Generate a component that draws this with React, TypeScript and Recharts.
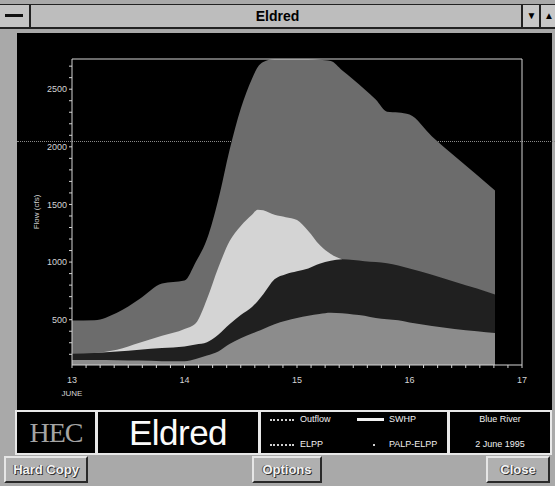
import { Area, ComposedChart, Label, XAxis, YAxis } from 'recharts'

// Eldred hydrograph, 13-16 June (flow in cfs)
const days = [13.0, 13.2, 13.4, 13.6, 13.8, 14.0, 14.1, 14.2, 14.3, 14.4, 14.5, 14.6, 14.65, 14.7, 14.8, 14.9, 15.0, 15.1, 15.2, 15.3, 15.4, 15.5, 15.6, 15.7, 15.8, 15.9, 16.0, 16.2, 16.4, 16.6, 16.76]
const outflow = [150, 150, 148, 145, 140, 140, 160, 190, 225, 290, 340, 380, 400, 420, 460, 490, 515, 535, 550, 560, 555, 545, 535, 515, 505, 495, 475, 445, 420, 400, 384]
const elpp = [205, 212, 225, 240, 255, 268, 285, 305, 370, 460, 540, 610, 660, 720, 850, 895, 920, 945, 985, 1012, 1025, 1018, 1008, 1000, 990, 970, 945, 890, 830, 770, 718]
const swhp = [null, 212, 240, 300, 360, 420, 470, 680, 950, 1180, 1314, 1410, 1455, 1450, 1410, 1390, 1365, 1270, 1150, 1070, 1025, null, null, null, null, null, null, null, null, null, null]
const palpElpp = [494, 496, 560, 680, 815, 840, 1000, 1200, 1540, 1970, 2330, 2590, 2690, 2735, 2762, 2762, 2762, 2762, 2755, 2745, 2665, 2585, 2500, 2410, 2305, 2298, 2280, 2090, 1920, 1755, 1620]

const dayLabels = [13, 14, 15, 16, 17]
const flowLabels = [500, 1000, 1500, 2000, 2500]
const flowTicks = [200, 300, 400, 500, 600, 700, 800, 900, 1000, 1100, 1200, 1300, 1400, 1500, 1600, 1700, 1800, 1900, 2000, 2100, 2200, 2300, 2400, 2500, 2600, 2700]
const dayTicks = Array.from({ length: 33 }, (_, i) => 13 + i / 8)

const chartData = days.map((day, i) => ({
  day,
  outflow: outflow[i],
  elpp: elpp[i],
  swhp: swhp[i],
  palpElpp: palpElpp[i],
}))

const AXIS = '#d4d4d4'
const NARROW = '"Liberation Sans Narrow", "Liberation Sans", sans-serif'
const FRAME = '#a9a9a9'

function DayTick(props: any) {
  const { x, y, payload } = props
  if (!dayLabels.includes(payload.value)) return <g />
  return (
    <g>
      <text x={x} y={y} dy={13} textAnchor="middle" fill={AXIS} fontSize={9} fontFamily={NARROW}>
        {payload.value}
      </text>
      {payload.value === 13 && (
        <text x={x} y={y} dy={26} textAnchor="middle" fill={AXIS} fontSize={8} fontFamily={NARROW}>
          JUNE
        </text>
      )}
    </g>
  )
}

function FlowLabel(props: any) {
  const vb = props.viewBox
  const cx = vb.x + 27
  const cy = vb.y + vb.height / 2
  return (
    <text x={cx} y={cy} transform={`rotate(-90 ${cx} ${cy})`} textAnchor="middle" fill={AXIS} fontSize={8} fontFamily={NARROW}>
      Flow (cfs)
    </text>
  )
}

function Button({ left, width, text }: { left: number; width: number; text: string }) {
  return (
    <div
      style={{
        position: 'absolute', left, top: 456, width, height: 27, boxSizing: 'border-box',
        background: '#b0b0b0', borderTop: '2px solid #e6e6e6', borderLeft: '2px solid #e6e6e6',
        borderBottom: '2px solid #2a2a2a', borderRight: '2px solid #2a2a2a',
        color: '#f4f4f4', fontWeight: 'bold', fontSize: 13, textAlign: 'center', lineHeight: '23px',
        textShadow: '1px 1px 0 #333, -1px 0 0 #555',
      }}
    >
      {text}
    </div>
  )
}

function Box({ left, width, children }: { left: number; width: number; children?: any }) {
  return (
    <div
      style={{
        position: 'absolute', left, top: 410, width, height: 45, boxSizing: 'border-box',
        background: '#000', border: '2px solid #e8e8e8', color: '#f0f0f0',
      }}
    >
      {children}
    </div>
  )
}

export default function App() {
  return (
    <div
      style={{
        position: 'absolute', left: 0, top: 0, width: 555, height: 486, overflow: 'hidden',
        background: FRAME, fontFamily: '"Liberation Sans", Arial, sans-serif',
      }}
    >
      {/* title bar */}
      <div style={{ position: 'absolute', left: 0, top: 4, width: 555, height: 25, boxSizing: 'border-box', background: '#bdbdbd', borderTop: '1px solid #222', borderBottom: '2px solid #222' }}>
        <div style={{ position: 'absolute', left: 0, top: 0, width: 29, height: 22, borderRight: '2px solid #222', background: '#c4c4c4' }}>
          <div style={{ position: 'absolute', left: 5, top: 9, width: 18, height: 3, background: '#111' }} />
        </div>
        <div style={{ position: 'absolute', left: 0, right: 0, top: 3, textAlign: 'center', fontWeight: 'bold', fontSize: 14, color: '#000' }}>
          Eldred
        </div>
        <div style={{ position: 'absolute', left: 521, top: 0, width: 17, height: 22, borderLeft: '2px solid #222', background: '#c8c8c8', fontSize: 10, textAlign: 'center', lineHeight: '22px' }}>▼</div>
        <div style={{ position: 'absolute', left: 539, top: 0, width: 16, height: 22, borderLeft: '2px solid #222', background: '#c8c8c8', fontSize: 10, textAlign: 'center', lineHeight: '22px' }}>▲</div>
      </div>

      {/* plot panel */}
      <div style={{ position: 'absolute', left: 17, top: 33, width: 535, height: 377, background: '#000' }} />
      <div style={{ position: 'absolute', left: 17, top: 141, width: 538, height: 0, borderTop: '1px dotted #8a8a8a' }} />

      <div style={{ position: 'absolute', left: 0, top: 0 }}>
        <ComposedChart width={555} height={405} data={chartData} margin={{ top: 59, right: 33, left: 12, bottom: 10 }}>
          <XAxis
            xAxisId="bottom" dataKey="day" type="number" domain={[13, 17]} ticks={dayTicks} height={30}
            stroke={AXIS} tickLine={{ stroke: AXIS }} tickSize={3} tick={<DayTick />} interval={0}
          />
          <XAxis
            xAxisId="top" orientation="top" dataKey="day" type="number" domain={[13, 17]} ticks={dayTicks.filter((_, i) => i % 2 === 0)}
            height={1} mirror stroke={AXIS} tickSize={3} tick={false} interval={0}
          />
          <YAxis
            yAxisId="left" type="number" domain={[107, 2762]} allowDataOverflow ticks={flowTicks} interval={0} width={60}
            stroke={AXIS} tickSize={3} tickFormatter={(v: number) => (flowLabels.includes(v) ? String(v) : '')}
            tick={{ fill: AXIS, fontSize: 9, fontFamily: NARROW }}
          >
            <Label content={<FlowLabel />} />
          </YAxis>
          <YAxis
            yAxisId="right" orientation="right" type="number" domain={[107, 2762]} allowDataOverflow ticks={flowLabels}
            width={1} mirror stroke={AXIS} tickSize={4} tick={false} interval={0}
          />
          <Area xAxisId="bottom" yAxisId="left" type="monotone" dataKey="palpElpp" name="PALP-ELPP" baseValue="dataMin" fill="#6c6c6c" fillOpacity={1} stroke="none" isAnimationActive={false} />
          <Area xAxisId="bottom" yAxisId="left" type="monotone" dataKey="swhp" name="SWHP" baseValue="dataMin" fill="#d4d4d4" fillOpacity={1} stroke="none" isAnimationActive={false} />
          <Area xAxisId="bottom" yAxisId="left" type="monotone" dataKey="elpp" name="ELPP" baseValue="dataMin" fill="#202020" fillOpacity={1} stroke="none" isAnimationActive={false} />
          <Area xAxisId="bottom" yAxisId="left" type="monotone" dataKey="outflow" name="Outflow" baseValue="dataMin" fill="#8c8c8c" fillOpacity={1} stroke="none" isAnimationActive={false} />
        </ComposedChart>
      </div>

      {/* legend strip */}
      <Box left={15} width={82}>
        <div style={{ position: 'absolute', left: 0, right: 0, top: 5, textAlign: 'center', fontFamily: '"Liberation Serif", "DejaVu Serif", serif', fontSize: 28, color: '#a4a4a4', letterSpacing: -1 }}>
          HEC
        </div>
      </Box>
      <Box left={96} width={164}>
        <div style={{ position: 'absolute', left: 0, right: 0, top: 1, textAlign: 'center', fontSize: 35, color: '#fafafa', letterSpacing: -0.5 }}>
          Eldred
        </div>
      </Box>
      <Box left={259} width={190}>
        <div style={{ position: 'absolute', left: 9, top: 7, width: 24, height: 0, borderTop: '2px dotted #cfcfcf' }} />
        <div style={{ position: 'absolute', left: 39, top: 2, fontSize: 9, fontFamily: NARROW }}>Outflow</div>
        <div style={{ position: 'absolute', left: 96, top: 6, width: 27, height: 3, background: '#f2f2f2' }} />
        <div style={{ position: 'absolute', left: 128, top: 2, fontSize: 9, fontFamily: NARROW }}>SWHP</div>
        <div style={{ position: 'absolute', left: 9, top: 32, width: 24, height: 0, borderTop: '2px dotted #cfcfcf' }} />
        <div style={{ position: 'absolute', left: 39, top: 27, fontSize: 9, fontFamily: NARROW }}>ELPP</div>
        <div style={{ position: 'absolute', left: 112, top: 32, width: 2, height: 2, background: '#cfcfcf' }} />
        <div style={{ position: 'absolute', left: 128, top: 27, fontSize: 9, fontFamily: NARROW }}>PALP-ELPP</div>
      </Box>
      <Box left={448} width={104}>
        <div style={{ position: 'absolute', left: 0, right: 0, top: 2, textAlign: 'center', fontSize: 9, fontFamily: NARROW }}>Blue River</div>
        <div style={{ position: 'absolute', left: 0, right: 0, top: 27, textAlign: 'center', fontSize: 9, fontFamily: NARROW }}>2 June 1995</div>
      </Box>

      {/* buttons */}
      <Button left={4} width={84} text="Hard Copy" />
      <Button left={252} width={70} text="Options" />
      <Button left={486} width={64} text="Close" />
    </div>
  )
}
